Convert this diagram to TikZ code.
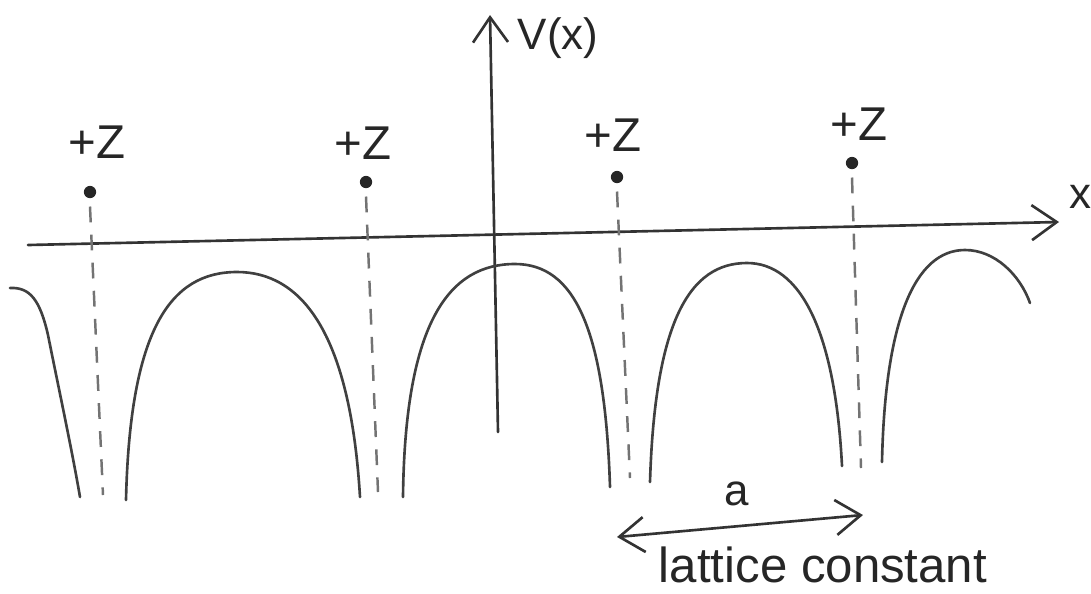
\documentclass[tikz,border=0pt]{standalone}
\usepackage{fontspec}
\setmainfont{Liberation Sans}
\usepackage{tikz}
\usetikzlibrary{calc,arrows.meta}

\begin{document}
\begin{tikzpicture}[x=0.02cm,y=-0.02cm,>={Straight Barb[length=5mm,width=7mm]},
	ink/.style={draw=black!80,line width=1.5pt,line cap=round},
	potline/.style={draw=black!75,line width=1.5pt,line cap=round},
	ionline/.style={draw=black!55,line width=1.4pt,dash pattern=on 9pt off 7pt},
	ion/.style={circle,fill=black!85,inner sep=0pt,minimum size=7pt},
	zlbl/.style={font=\fontsize{27}{30}\selectfont,text=black!85},
	hand/.style={font=\fontsize{25}{28}\selectfont,text=black!85}]
	\useasboundingbox (0,0) rectangle (1091,593);
	
	% axes
	\coordinate (xl) at (28,245);
	\coordinate (xr) at (1059,222);
	\coordinate (yb) at (498,432);
	\coordinate (yt) at (490,15);
	\draw[ink,->] (xl) -- (xr);
	\draw[ink,->] (yb) -- (yt);
	\node[hand] (xlbl) at (1080,197) {x};
	\node[hand] (vlbl) at (558,38) {V(x)};
	
	% ions +Z and their positions
	\node[ion] (ion1) at (90,192) {};
	\node[ion] (ion2) at (366,182) {};
	\node[ion] (ion3) at (617,177) {};
	\node[ion] (ion4) at (852,163) {};
	\node[zlbl] (z1) at (97,142) {+Z};
	\node[zlbl] (z2) at (363,143) {+Z};
	\node[zlbl] (z3) at (613,135) {+Z};
	\node[zlbl] (z4) at (859,124) {+Z};
	\coordinate (f1) at (103,495);
	\coordinate (f2) at (378,492);
	\coordinate (f3) at (630,478);
	\coordinate (f4) at (861,468);
	\foreach \i in {1,...,4}
		\draw[ionline] (ion\i.south) ++(0,8) -- (f\i);
	
	% potential V(x)
	\draw[potline] (10,288) .. controls (30,287) and (40,300) .. (48,335)
		.. controls (58,385) and (72,450) .. (80,497);
	\draw[potline] (126,500) .. controls (130,330) and (170,272) .. (237,272)
		.. controls (300,272) and (350,330) .. (360,497);
	\draw[potline] (403,497) .. controls (405,320) and (450,264) .. (515,264)
		.. controls (575,264) and (605,330) .. (610,487);
	\draw[potline] (650,482) .. controls (655,320) and (690,263) .. (747,263)
		.. controls (800,263) and (835,330) .. (842,466);
	\draw[potline] (882,462) .. controls (885,320) and (915,250) .. (965,250)
		.. controls (995,250) and (1020,275) .. (1030,303);
	
	% lattice constant
	\coordinate (aL) at (617,537);
	\coordinate (aR) at (863,515);
	\draw[ink,<->] (aL) -- (aR);
	\node[hand] (albl) at (737,494) {a};
	\node[hand,font=\fontsize{28}{31}\selectfont] (lc) at (823,565) {lattice constant};
\end{tikzpicture}
\end{document}
